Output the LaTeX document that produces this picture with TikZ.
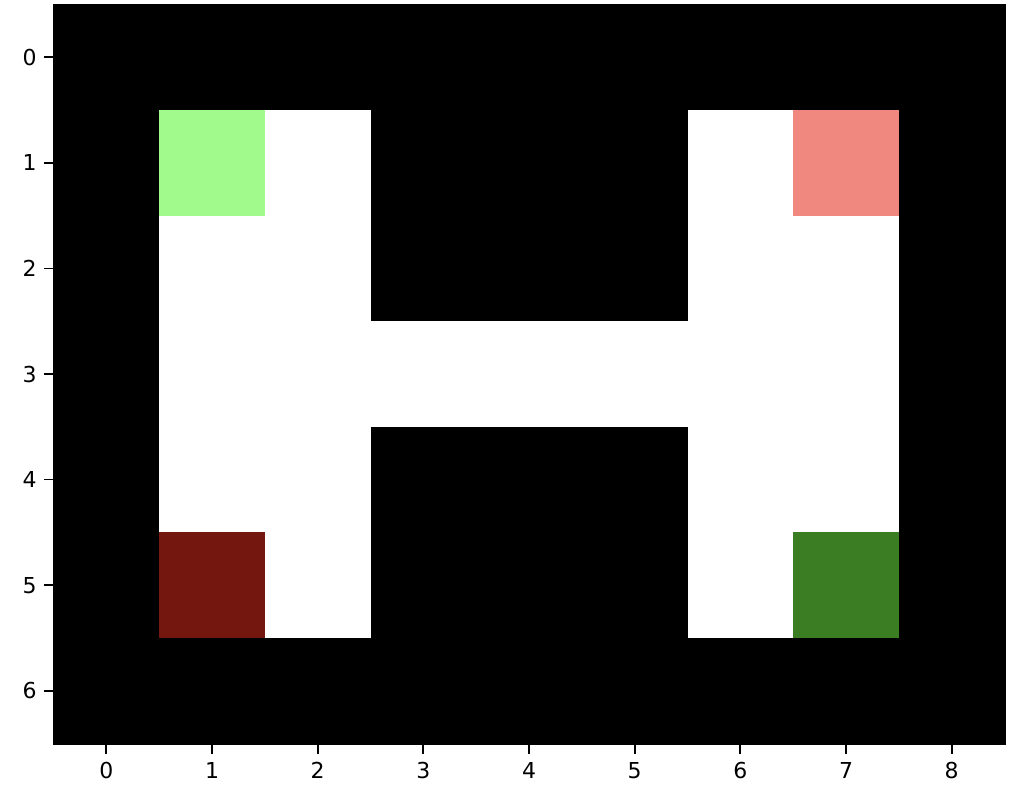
\documentclass[tikz,border=0pt]{standalone}
\usepackage{fontspec}
\setmainfont{DejaVu Sans}
\usetikzlibrary{positioning}

\definecolor{startgreen}{RGB}{160,251,140}
\definecolor{goalred}{RGB}{240,136,128}
\definecolor{darkred}{RGB}{116,23,15}
\definecolor{darkgreen}{RGB}{58,125,34}

\begin{document}
\begin{tikzpicture}[x=0.02cm, y=-0.02cm,
        cell/.style={inner sep=0pt, minimum width=2.1134cm, minimum height=2.1114cm, draw=none},
        tick/.style={line width=1pt},
        ticklabel/.style={font=\fontsize{12.5}{15}\selectfont, inner sep=0pt}]

        \useasboundingbox (0,0) rectangle (1010,798);

        % walls
        \node[cell, fill=black, minimum width=19.02cm, minimum height=14.78cm, anchor=north west] (grid) at (53.5,4.5) {};

        % free cells
        \foreach \c/\r in {2/1, 6/1, 1/2, 2/2, 6/2, 7/2, 1/3, 2/3, 3/3, 4/3, 5/3, 6/3, 7/3, 1/4, 2/4, 6/4, 7/4, 2/5, 6/5}
            \node[cell, fill=white] (c\c\r) at ({106.33+105.67*\c},{57.29+105.57*\r}) {};

        % coloured cells
        \node[cell, fill=startgreen] (c11) at ({106.33+105.67*1},{57.29+105.57*1}) {};
        \node[cell, fill=goalred] (c71) at ({106.33+105.67*7},{57.29+105.57*1}) {};
        \node[cell, fill=darkred] (c15) at ({106.33+105.67*1},{57.29+105.57*5}) {};
        \node[cell, fill=darkgreen] (c75) at ({106.33+105.67*7},{57.29+105.57*5}) {};

        % frame
        \draw[tick] (grid.north west) rectangle (grid.south east);

        % x axis
        \foreach \i in {0,...,8} {
            \coordinate (xt\i) at ({106.33+105.67*\i},743.5);
            \draw[tick] (xt\i) -- ++(0,10);
            \node[ticklabel, anchor=north] (xl\i) at ({106.33+105.67*\i},762) {\i};
        }

        % y axis
        \foreach \j in {0,...,6} {
            \coordinate (yt\j) at (53.5,{57.29+105.57*\j});
            \draw[tick] (yt\j) -- ++(-10,0);
            \node[ticklabel, anchor=east] (yl\j) at (37,{57.29+105.57*\j}) {\j};
        }

    \end{tikzpicture}
\end{document}
